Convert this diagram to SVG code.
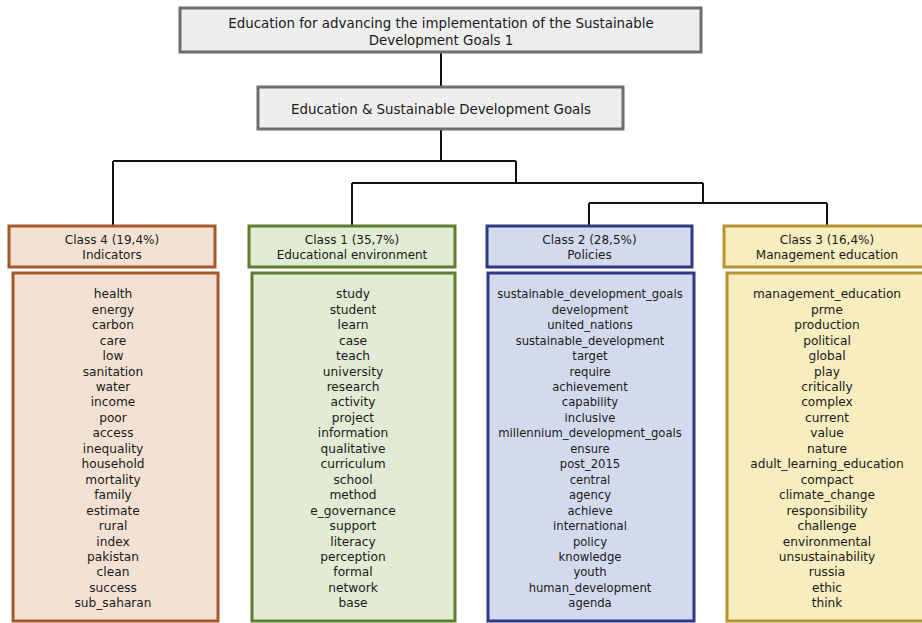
<svg xmlns="http://www.w3.org/2000/svg" width="922" height="623" viewBox="0 0 922 623">
<style>
text{font-family:"DejaVu Sans","Liberation Sans",sans-serif;fill:#1a1a1a;text-anchor:middle}
.top{font-size:13.4px}
.hd{font-size:12px}
.w{font-size:12.2px}
.w2{font-size:11.6px}
.gray{fill:#eeeeee;stroke:#6e6e6e;stroke-width:3}
.c4{fill:#f3e2d3;stroke:#a4582c;stroke-width:3}
.c1{fill:#e2ebd3;stroke:#5b7f2f;stroke-width:3}
.c2{fill:#d4daee;stroke:#2e3984;stroke-width:3}
.c3{fill:#f7edbf;stroke:#b5952f;stroke-width:3}
.con{fill:none;stroke:#111;stroke-width:2}
</style>
<rect width="922" height="623" fill="#ffffff"/>
<g id="connectors" class="con">
<path d="M441 52V87"/>
<path d="M441 129V161M113 161H516M113 161V226"/>
<path d="M516 161V183M352 183H703M352 183V226"/>
<path d="M703 183V203M589 203H827M589 203V226M827 203V226"/>
</g>
<g id="root">
<rect class="gray" x="180" y="8" width="521" height="44"/>
<text class="top" x="441" y="27.5">Education for advancing the implementation of the Sustainable</text>
<text class="top" x="441" y="44.5">Development Goals 1</text>
</g>
<g id="sdg">
<rect class="gray" x="258" y="87" width="365" height="42"/>
<text class="top" x="441" y="113.5">Education &amp; Sustainable Development Goals</text>
</g>
<g id="class4">
<rect class="c4" x="9" y="226" width="206" height="41"/>
<text class="hd" x="112" y="244.2">Class 4 (19,4%)</text>
<text class="hd" x="112" y="258.5">Indicators</text>
<rect class="c4" x="13" y="273" width="205" height="348"/>
<text class="w" x="113" y="298.3">health</text>
<text class="w" x="113" y="313.75">energy</text>
<text class="w" x="113" y="329.2">carbon</text>
<text class="w" x="113" y="344.65">care</text>
<text class="w" x="113" y="360.1">low</text>
<text class="w" x="113" y="375.55">sanitation</text>
<text class="w" x="113" y="391">water</text>
<text class="w" x="113" y="406.45">income</text>
<text class="w" x="113" y="421.9">poor</text>
<text class="w" x="113" y="437.35">access</text>
<text class="w" x="113" y="452.8">inequality</text>
<text class="w" x="113" y="468.25">household</text>
<text class="w" x="113" y="483.7">mortality</text>
<text class="w" x="113" y="499.15">family</text>
<text class="w" x="113" y="514.6">estimate</text>
<text class="w" x="113" y="530.05">rural</text>
<text class="w" x="113" y="545.5">index</text>
<text class="w" x="113" y="560.95">pakistan</text>
<text class="w" x="113" y="576.4">clean</text>
<text class="w" x="113" y="591.85">success</text>
<text class="w" x="113" y="607.3">sub_saharan</text>
</g>
<g id="class1">
<rect class="c1" x="249" y="226" width="206" height="41"/>
<text class="hd" x="352" y="244.2">Class 1 (35,7%)</text>
<text class="hd" x="352" y="258.5">Educational environment</text>
<rect class="c1" x="252" y="273" width="203" height="348"/>
<text class="w" x="353" y="298.3">study</text>
<text class="w" x="353" y="313.75">student</text>
<text class="w" x="353" y="329.2">learn</text>
<text class="w" x="353" y="344.65">case</text>
<text class="w" x="353" y="360.1">teach</text>
<text class="w" x="353" y="375.55">university</text>
<text class="w" x="353" y="391">research</text>
<text class="w" x="353" y="406.45">activity</text>
<text class="w" x="353" y="421.9">project</text>
<text class="w" x="353" y="437.35">information</text>
<text class="w" x="353" y="452.8">qualitative</text>
<text class="w" x="353" y="468.25">curriculum</text>
<text class="w" x="353" y="483.7">school</text>
<text class="w" x="353" y="499.15">method</text>
<text class="w" x="353" y="514.6">e_governance</text>
<text class="w" x="353" y="530.05">support</text>
<text class="w" x="353" y="545.5">literacy</text>
<text class="w" x="353" y="560.95">perception</text>
<text class="w" x="353" y="576.4">formal</text>
<text class="w" x="353" y="591.85">network</text>
<text class="w" x="353" y="607.3">base</text>
</g>
<g id="class2">
<rect class="c2" x="487" y="226" width="205" height="41"/>
<text class="hd" x="589.5" y="244.2">Class 2 (28,5%)</text>
<text class="hd" x="589.5" y="258.5">Policies</text>
<rect class="c2" x="488" y="273" width="206" height="348"/>
<text class="w2" x="590" y="298.3">sustainable_development_goals</text>
<text class="w2" x="590" y="313.75">development</text>
<text class="w2" x="590" y="329.2">united_nations</text>
<text class="w2" x="590" y="344.65">sustainable_development</text>
<text class="w2" x="590" y="360.1">target</text>
<text class="w2" x="590" y="375.55">require</text>
<text class="w2" x="590" y="391">achievement</text>
<text class="w2" x="590" y="406.45">capability</text>
<text class="w2" x="590" y="421.9">inclusive</text>
<text class="w2" x="590" y="437.35">millennium_development_goals</text>
<text class="w2" x="590" y="452.8">ensure</text>
<text class="w2" x="590" y="468.25">post_2015</text>
<text class="w2" x="590" y="483.7">central</text>
<text class="w2" x="590" y="499.15">agency</text>
<text class="w2" x="590" y="514.6">achieve</text>
<text class="w2" x="590" y="530.05">international</text>
<text class="w2" x="590" y="545.5">policy</text>
<text class="w2" x="590" y="560.95">knowledge</text>
<text class="w2" x="590" y="576.4">youth</text>
<text class="w2" x="590" y="591.85">human_development</text>
<text class="w2" x="590" y="607.3">agenda</text>
</g>
<g id="class3">
<rect class="c3" x="724" y="226" width="206" height="41"/>
<text class="hd" x="827" y="244.2">Class 3 (16,4%)</text>
<text class="hd" x="827" y="258.5">Management education</text>
<rect class="c3" x="727" y="273" width="205" height="348"/>
<text class="w" x="827" y="298.3">management_education</text>
<text class="w" x="827" y="313.75">prme</text>
<text class="w" x="827" y="329.2">production</text>
<text class="w" x="827" y="344.65">political</text>
<text class="w" x="827" y="360.1">global</text>
<text class="w" x="827" y="375.55">play</text>
<text class="w" x="827" y="391">critically</text>
<text class="w" x="827" y="406.45">complex</text>
<text class="w" x="827" y="421.9">current</text>
<text class="w" x="827" y="437.35">value</text>
<text class="w" x="827" y="452.8">nature</text>
<text class="w" x="827" y="468.25">adult_learning_education</text>
<text class="w" x="827" y="483.7">compact</text>
<text class="w" x="827" y="499.15">climate_change</text>
<text class="w" x="827" y="514.6">responsibility</text>
<text class="w" x="827" y="530.05">challenge</text>
<text class="w" x="827" y="545.5">environmental</text>
<text class="w" x="827" y="560.95">unsustainability</text>
<text class="w" x="827" y="576.4">russia</text>
<text class="w" x="827" y="591.85">ethic</text>
<text class="w" x="827" y="607.3">think</text>
</g>
</svg>
